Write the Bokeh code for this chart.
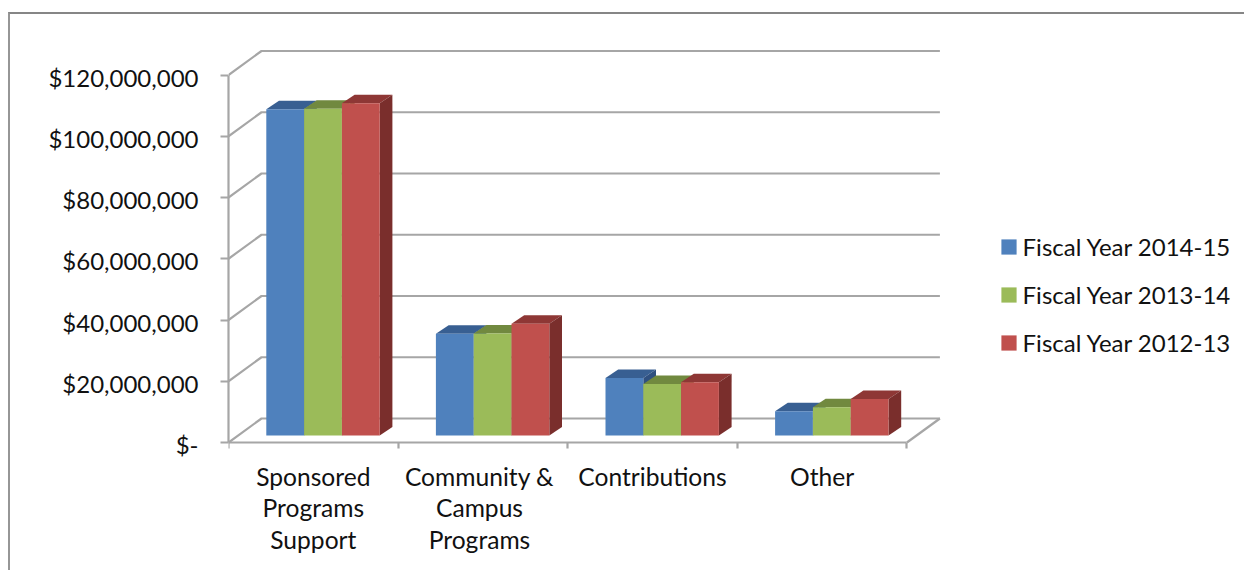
from bokeh.plotting import figure
from bokeh.models import Range1d, LinearAxis, FixedTicker, Legend, LegendItem
from bokeh.embed import file_html
from bokeh.resources import INLINE

# ---- data ----
categories = ["Sponsored\nPrograms\nSupport", "Community &\nCampus\nPrograms", "Contributions", "Other"]
label_positions = [0.5, 1.48, 2.5, 3.5]
series_names = ["Fiscal Year 2014-15", "Fiscal Year 2013-14", "Fiscal Year 2012-13"]
fy_2014_15 = [106.5e6, 33.2e6, 18.8e6, 7.9e6]
fy_2013_14 = [106.7e6, 33.3e6, 16.8e6, 9.2e6]
fy_2012_13 = [108.5e6, 36.5e6, 17.4e6, 11.9e6]
y_ticks = [0, 20e6, 40e6, 60e6, 80e6, 100e6, 120e6]
y_labels = ["$-", "$20,000,000", "$40,000,000", "$60,000,000", "$80,000,000", "$100,000,000", "$120,000,000"]

front_colors = ["#4F81BD", "#9BBB59", "#C0504D"]
top_colors = ["#385F92", "#71893F", "#8E3735"]
side_colors = ["#2F5080", "#5F7535", "#7A2E2C"]
AXIS_COLOR = "#A6A6A6"
TEXT_COLOR = "#111111"
FONT = "Lato"

# ---- layout (pixels) ----
OX, OY = 10, 14                      # where the canvas starts in the window
W, H = 1246 - OX, 572 - OY
ZERO_PX = 442 - OY
FRAME_L, FRAME_R = 228 - OX, W
FRAME_T, FRAME_B = 45 - OY, ZERO_PX + 6
PX_PER_BAND = 169.6
PX_PER_USD = 61.25 / 20e6
LABEL_SHIFT = 2 / PX_PER_USD

x_range = Range1d(0, (FRAME_R - FRAME_L) / PX_PER_BAND)
y_bottom = -(FRAME_B - ZERO_PX) / PX_PER_USD
y_top = (ZERO_PX - FRAME_T) / PX_PER_USD
y_range = Range1d(y_bottom, y_top)

p = figure(width=W, height=H, x_range=x_range, y_range=y_range,
           output_backend="svg", toolbar_location=None,
           min_border_left=FRAME_L, min_border_right=0,
           min_border_top=FRAME_T, min_border_bottom=H - FRAME_B,
           x_axis_location=None, y_axis_location=None)
p.grid.visible = False
p.outline_line_color = None
p.background_fill_color = None
p.border_fill_color = "#FFFFFF"
p.margin = (12, 0, 0, 8)
p.styles = {"border-top": "2px solid #868686", "border-left": "2px solid #969696"}
p.extra_y_ranges = {"labels": Range1d(y_bottom + LABEL_SHIFT, y_top + LABEL_SHIFT)}

# depth of the wall and of the boxes, as data offsets
WALL_DX, WALL_DY = 33 / PX_PER_BAND, 24 / PX_PER_USD
BOX_DX, BOX_DY = 12.7 / PX_PER_BAND, 8.5 / PX_PER_USD
BASE_Y = 7 / PX_PER_USD
BAR_W = 37.8 / PX_PER_BAND
BAR_GAP = 37.8 / PX_PER_BAND
n = len(categories)

# walls and floor
gx = [[0, WALL_DX, n + WALL_DX] for _ in y_ticks]
gy = [[t, t + WALL_DY, t + WALL_DY] for t in y_ticks]
gx.append([n, n + WALL_DX])
gy.append([0, WALL_DY])
p.multi_line(gx, gy, line_color=AXIS_COLOR, line_width=2.2)

# boxes
legend_items = []
for s, vals in enumerate([fy_2014_15, fy_2013_14, fy_2012_13]):
    left = [i + BAR_GAP + s * BAR_W for i in range(n)]
    right = [l + BAR_W for l in left]
    top = [BASE_Y + v for v in vals]
    bottom = [BASE_Y] * n
    p.patches([[l, l + BOX_DX, r + BOX_DX, r] for l, r in zip(left, right)],
              [[t, t + BOX_DY, t + BOX_DY, t] for t in top],
              fill_color=top_colors[s], line_color=None)
    p.patches([[r, r + BOX_DX, r + BOX_DX, r] for r in right],
              [[BASE_Y, BASE_Y + BOX_DY, t + BOX_DY, t] for t in top],
              fill_color=side_colors[s], line_color=None)
    front = p.quad(left=left, right=right, top=top, bottom=bottom,
                   fill_color=front_colors[s], line_color=None)
    legend_items.append(LegendItem(label=series_names[s], renderers=[front]))

# axes
y_axis = LinearAxis(ticker=FixedTicker(ticks=y_ticks), bounds=(0, 120e6),
                    axis_line_color=AXIS_COLOR, axis_line_width=2.2,
                    major_tick_line_color=AXIS_COLOR, major_tick_line_width=2.2,
                    major_tick_in=0, major_tick_out=8, minor_tick_line_color=None,
                    major_label_text_color=None, major_label_text_font_size="1px",
                    major_label_standoff=0)
p.add_layout(y_axis, "left")

y_label_axis = LinearAxis(y_range_name="labels", ticker=FixedTicker(ticks=y_ticks),
                          major_label_overrides={t: l for t, l in zip(y_ticks, y_labels)},
                          axis_line_color=None, major_tick_line_color=None,
                          minor_tick_line_color=None, major_label_standoff=16,
                          major_label_text_font=FONT, major_label_text_font_size="24px",
                          major_label_text_color=TEXT_COLOR)
p.add_layout(y_label_axis, "left")

x_axis = LinearAxis(ticker=FixedTicker(ticks=list(range(n + 1))), bounds=(0, n),
                    fixed_location=0,
                    major_label_text_color=None, major_label_text_font_size="1px",
                    axis_line_color=AXIS_COLOR, axis_line_width=2.2,
                    major_tick_line_color=AXIS_COLOR, major_tick_line_width=2.2,
                    major_tick_in=0, major_tick_out=8, minor_tick_line_color=None)
p.add_layout(x_axis, "below")

label_axis = LinearAxis(ticker=FixedTicker(ticks=label_positions),
                        major_label_overrides={t: c for t, c in zip(label_positions, categories)},
                        axis_line_color=None, major_tick_line_color=None,
                        minor_tick_line_color=None, major_label_standoff=7,
                        major_label_text_font=FONT, major_label_text_font_size="24.6px",
                        major_label_text_color=TEXT_COLOR, major_label_text_line_height=1.1)
p.add_layout(label_axis, "below")

legend = Legend(items=legend_items, location=(717 + 53.6, 91),
                background_fill_alpha=0, border_line_color=None,
                glyph_width=19, glyph_height=19, label_standoff=5,
                spacing=19, padding=0, margin=0,
                label_height=28, label_text_font=FONT, label_text_font_size="24px",
                label_text_color=TEXT_COLOR)
p.add_layout(legend, "center")

open("out.html", "w").write(file_html(p, INLINE))
